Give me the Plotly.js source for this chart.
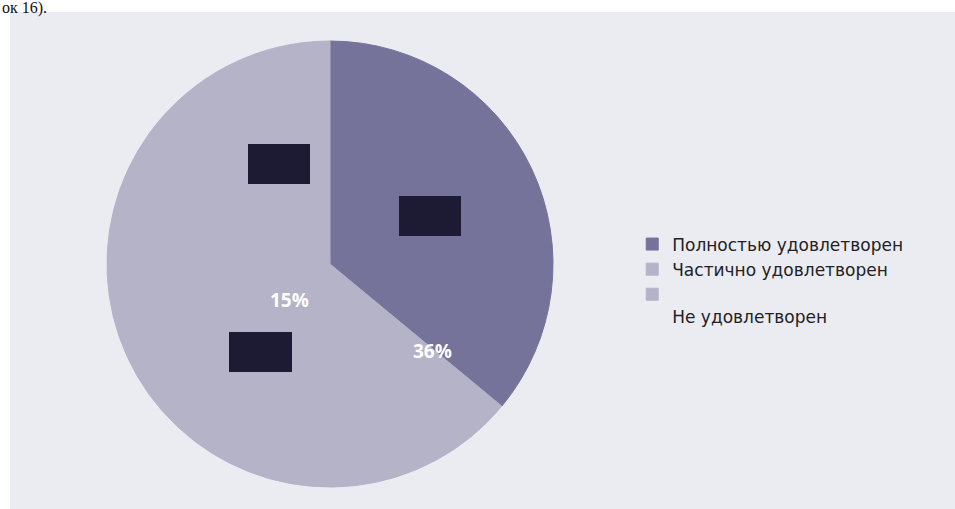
<!DOCTYPE html>
<html>
<head>
<meta charset="utf-8">
<script src="https://cdn.plot.ly/plotly-3.0.1.min.js"></script>
<style>html,body{margin:0;padding:0;background:#fff;}#chart{width:955px;height:509px;}</style>
</head>
<body>
<div id="chart"></div>
<script>
const categories = ["Полностью удовлетворен", "Частично удовлетворен", "Не удовлетворен"];
const legendLabels = ["Полностью удовлетворен", "Частично удовлетворен", " <br>Не удовлетворен"];
const values = [36, 49, 15];
const sliceColors = ["#75739a", "#b4b3c8", "#b4b3c8"];
const labelTexts = ["36%", "15%"];

const trace = {
  type: "pie",
  labels: legendLabels,
  values: values,
  sort: false,
  direction: "clockwise",
  rotation: 0,
  textinfo: "none",
  hoverinfo: "label+percent",
  marker: {colors: sliceColors, line: {width: 1, color: sliceColors}},
  domain: {x: [0.1099, 0.5812], y: [0.0432, 0.9194]}
};

const redact = (x0, y0, x1, y1) => ({
  type: "rect", xref: "paper", yref: "paper", layer: "above",
  x0: x0 / 955, x1: x1 / 955, y0: 1 - y1 / 509, y1: 1 - y0 / 509,
  fillcolor: "#1d1b33", line: {width: 0}
});

const layout = {
  width: 955, height: 509,
  margin: {l: 0, r: 0, t: 0, b: 0},
  paper_bgcolor: "#ffffff",
  showlegend: true,
  legend: {
    x: 0.662, y: 0.555, xanchor: "left", yanchor: "top",
    valign: "top",
    font: {family: "DejaVu Sans, Open Sans, sans-serif", size: 17, color: "#222"},
    bgcolor: "rgba(0,0,0,0)",
    tracegroupgap: 0
  },
  shapes: [
    {type: "rect", xref: "paper", yref: "paper", layer: "below",
     x0: 10 / 955, x1: 1, y0: 0, y1: 1 - 12 / 509,
     fillcolor: "#ebebf2", line: {width: 0}},
    redact(248, 144, 310, 184),
    redact(399, 196, 461, 236),
    redact(229, 332, 292, 372)
  ],
  annotations: [
    {xref: "paper", yref: "paper", x: 432 / 955, y: 1 - 366 / 509,
     text: labelTexts[0], showarrow: false,
     font: {family: "Open Sans, sans-serif", size: 19, color: "#ffffff", weight: "bold"}},
    {xref: "paper", yref: "paper", x: 268 / 955, y: 1 - 300 / 509,
     text: labelTexts[1], showarrow: false,
     font: {family: "Open Sans, sans-serif", size: 19, color: "#ffffff", weight: "bold"}},
    {xref: "paper", yref: "paper", x: 0, y: 1, xanchor: "left", yanchor: "top", yshift: 3,
     text: "ок 16).", showarrow: false, bgcolor: "rgba(0,0,0,0)",
     font: {family: "Liberation Serif, serif", size: 16, color: "#111"}}
  ]
};

Plotly.newPlot("chart", [trace], layout, {displayModeBar: false, staticPlot: true});
</script>
</body>
</html>
